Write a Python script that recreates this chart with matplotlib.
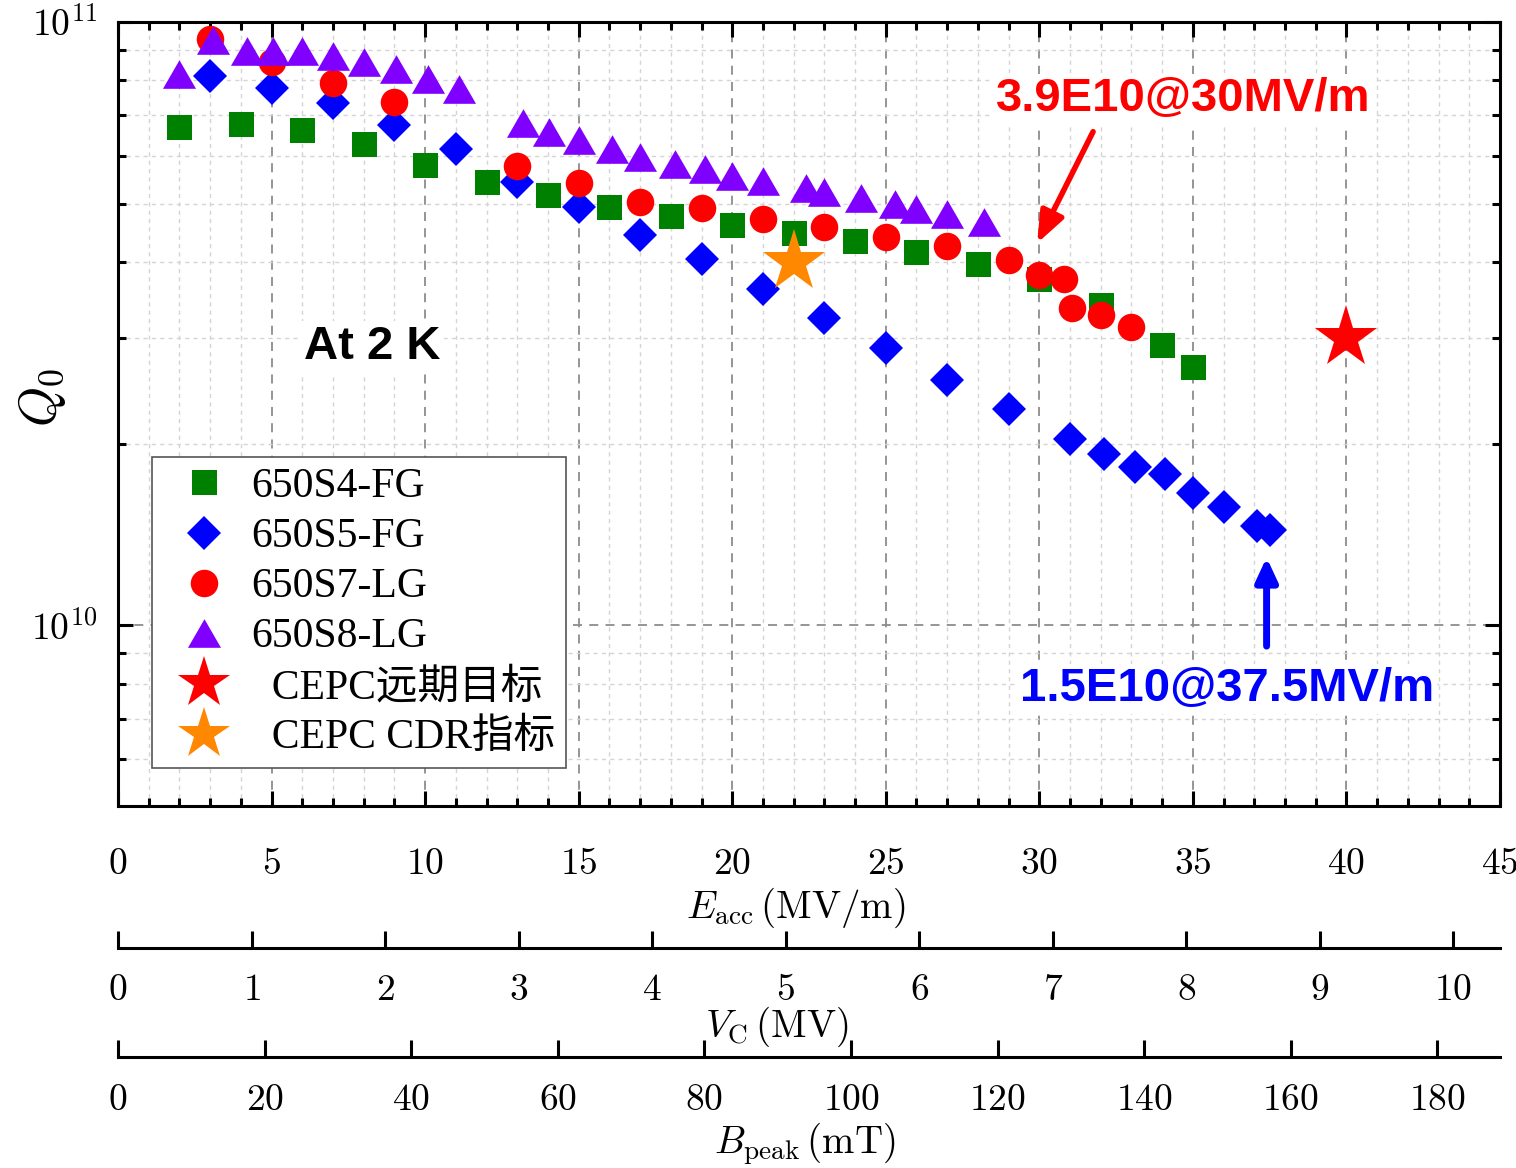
import numpy as np
import matplotlib
matplotlib.use("Agg")
import matplotlib.pyplot as plt
from matplotlib.ticker import MultipleLocator, LogLocator, NullFormatter

plt.rcParams['mathtext.fontset'] = 'cm'

# ---- data (Eacc in MV/m, Q0) ----
s4_e = [2, 4, 6, 8, 10, 12, 14, 16, 18, 20, 22, 24, 26, 28, 30, 32, 34, 35]
s4_q = [6.71e10, 6.78e10, 6.61e10, 6.28e10, 5.80e10, 5.44e10, 5.16e10, 4.94e10, 4.77e10,
        4.61e10, 4.47e10, 4.33e10, 4.15e10, 3.97e10, 3.75e10, 3.40e10, 2.91e10, 2.68e10]

s5_e = [3, 5, 7, 9, 11, 13, 15, 17, 19, 21, 23, 25, 27, 29, 31, 32.1, 33.1, 34.1, 35, 36,
        37.1, 37.5]
s5_q = [8.13e10, 7.77e10, 7.33e10, 6.74e10, 6.17e10, 5.44e10, 4.94e10, 4.43e10, 4.05e10,
        3.61e10, 3.23e10, 2.88e10, 2.55e10, 2.28e10, 2.04e10, 1.92e10, 1.83e10, 1.78e10,
        1.66e10, 1.57e10, 1.46e10, 1.44e10]

s7_e = [3, 5, 7, 9, 13, 15, 17, 19, 21, 23, 25, 27, 29, 30, 30.8, 31.05, 32, 33]
s7_q = [9.38e10, 8.60e10, 7.92e10, 7.36e10, 5.78e10, 5.41e10, 5.04e10, 4.91e10, 4.72e10,
        4.58e10, 4.40e10, 4.26e10, 4.03e10, 3.81e10, 3.75e10, 3.36e10, 3.27e10, 3.12e10]

s8_e = [2, 3.1, 4.2, 5.05, 6, 7, 8, 9.05, 10.1, 11.1, 13.2, 14.05, 15, 16.1, 17, 18.15,
        19.1, 20, 21, 22.4, 23, 24.2, 25.3, 26, 27, 28.2]
s8_q = [8.19e10, 9.34e10, 8.96e10, 8.96e10, 8.96e10, 8.78e10, 8.60e10, 8.35e10, 8.05e10,
        7.74e10, 6.79e10, 6.56e10, 6.37e10, 6.15e10, 5.98e10, 5.82e10, 5.70e10, 5.56e10,
        5.46e10, 5.30e10, 5.22e10, 5.11e10, 5.00e10, 4.90e10, 4.80e10, 4.67e10]

goal_e, goal_q = [40], [3.0e10]      # CEPC long-term goal
cdr_e, cdr_q = [22], [4.0e10]        # CEPC CDR spec

labels = ['650S4-FG', '650S5-FG', '650S7-LG', '650S8-LG', '  CEPC远期目标', '  CEPC CDR指标']

e_ticks = [0, 5, 10, 15, 20, 25, 30, 35, 40, 45]
vc_ticks = [0, 1, 2, 3, 4, 5, 6, 7, 8, 9, 10]
b_ticks = [0, 20, 40, 60, 80, 100, 120, 140, 160, 180]

E_MAX = 45
VC_PER_E = 0.23      # cavity length (m): Vc = Eacc * L
BPK_PER_E = 4.19     # mT per MV/m

W, H = 1516, 1168
fig = plt.figure(figsize=(W / 100, H / 100), dpi=100)
ax = fig.add_axes([118 / W, 1 - 806 / H, 1382 / W, 784 / H])

tri = [(0, 0.433), (-0.5, -0.433), (0.5, -0.433)]
ax.plot(s4_e, s4_q, ls='none', marker='s', ms=18, color='#008000', mew=0, label=labels[0])
ax.plot(s5_e, s5_q, ls='none', marker='D', ms=17.8, color='#0000ff', mew=0, label=labels[1])
ax.plot(s7_e, s7_q, ls='none', marker='o', ms=19.8, color='#ff0000', mew=0, label=labels[2])
ax.plot(s8_e, s8_q, ls='none', marker=tri, ms=23.8, color='#8000ff', mew=0, label=labels[3])
ax.plot(goal_e, goal_q, ls='none', marker='*', ms=47, color='#ff0000', mew=0, label=labels[4])
ax.plot(cdr_e, cdr_q, ls='none', marker='*', ms=47, color='#ff8800', mew=0, label=labels[5])

ax.set_yscale('log')
ax.set_xlim(0, E_MAX)
ax.set_ylim(5.02e9, 1e11)
ax.set_xticks(e_ticks, labels=[f'${t}$' for t in e_ticks])
ax.xaxis.set_minor_locator(MultipleLocator(1))
ax.set_yticks([1e10, 1e11], labels=[r'$10^{10}$', r'$10^{11}$'])
ax.yaxis.set_minor_locator(LogLocator(base=10, subs=np.arange(2, 10) * 1.0))
ax.yaxis.set_minor_formatter(NullFormatter())

ax.tick_params(which='both', direction='in', top=True, right=True, width=2.2)
ax.tick_params(which='major', length=11, labelsize=27)
ax.tick_params(which='minor', length=6)
ax.tick_params(axis='x', pad=29)
ax.tick_params(axis='y', pad=15)
for s in ax.spines.values():
    s.set_linewidth(2.2)

ax.set_axisbelow(True)
ax.grid(which='major', color='#8c8c8c', lw=1.3, ls=(0, (5, 4)))
ax.grid(which='minor', color='#d4d4d4', lw=1.0, ls=(0, (3, 3)))

ax.set_xlabel(r'$E_{\mathrm{acc}}\,(\mathrm{MV/m})$', fontsize=28)
ax.xaxis.set_label_coords(796 / W, 1 - 886 / H, transform=fig.transFigure)
ax.set_ylabel(r'$Q_0$', fontsize=37)
ax.yaxis.set_label_coords(68 / W, 1 - 397 / H, transform=fig.transFigure)

leg = ax.legend(loc='upper left', bbox_to_anchor=((152 - 118) / 1382, (806 - 457) / 784),
                borderaxespad=0, prop=dict(family=['Liberation Serif', 'Noto Sans CJK SC'], size=30),
                fancybox=False, edgecolor='#555555', framealpha=1, borderpad=0.25,
                handlelength=2.0, handletextpad=0.13, labelspacing=0.28, numpoints=1)
leg.get_frame().set_linewidth(1.2)
for h in leg.legend_handles[4:]:
    h.set_markersize(39)

bold = dict(fontsize=34, fontweight='bold', family='Liberation Sans', ha='center', va='center')
ax.text(8.27, 2.89e10, 'At 2 K', color='black',
        bbox=dict(fc='white', ec='none', pad=3), **bold)
ax.text(34.68, 7.45e10, '3.9E10@30MV/m', color='#ff0000',
        bbox=dict(fc='white', ec='none', pad=2), **bold)
ax.text(36.11, 7.85e9, '1.5E10@37.5MV/m', color='#0000ff',
        bbox=dict(fc='white', ec='none', pad=2), **bold)

ax.annotate('', xy=(29.93, 4.30e10), xytext=(31.75, 6.58e10),
            arrowprops=dict(arrowstyle='-|>,head_length=19,head_width=7.5', mutation_scale=1,
                            color='#ff0000', lw=4, shrinkA=0, shrinkB=0))
ax.annotate('', xy=(37.4, 1.296e10), xytext=(37.4, 9.24e9),
            arrowprops=dict(arrowstyle='-|>,head_length=14,head_width=6.5', mutation_scale=1,
                            color='#0000ff', lw=5, shrinkA=0, shrinkB=0))


def scale_axis(y_px, xmax, ticks, label, label_x, label_top, pad):
    a = fig.add_axes([118 / W, 1 - y_px / H, 1382 / W, 1e-4])
    a.patch.set_visible(False)
    for side in ('top', 'left', 'right'):
        a.spines[side].set_visible(False)
    a.spines['bottom'].set_linewidth(2.2)
    a.set_yticks([])
    a.set_xlim(0, xmax)
    a.set_xticks(ticks, labels=[f'${t}$' for t in ticks])
    a.tick_params(axis='x', direction='in', length=12, width=2.2, labelsize=27, pad=pad)
    a.set_xlabel(label, fontsize=28)
    a.xaxis.set_label_coords(label_x / W, 1 - label_top / H, transform=fig.transFigure)
    return a


scale_axis(948, E_MAX * VC_PER_E, vc_ticks, r'$V_{\mathrm{C}}\,(\mathrm{MV})$', 777, 1005, 17)
scale_axis(1057, E_MAX * BPK_PER_E, b_ticks, r'$B_{\mathrm{peak}}\,(\mathrm{mT})$', 805, 1121, 18)

fig.savefig('out.png', dpi=100)
